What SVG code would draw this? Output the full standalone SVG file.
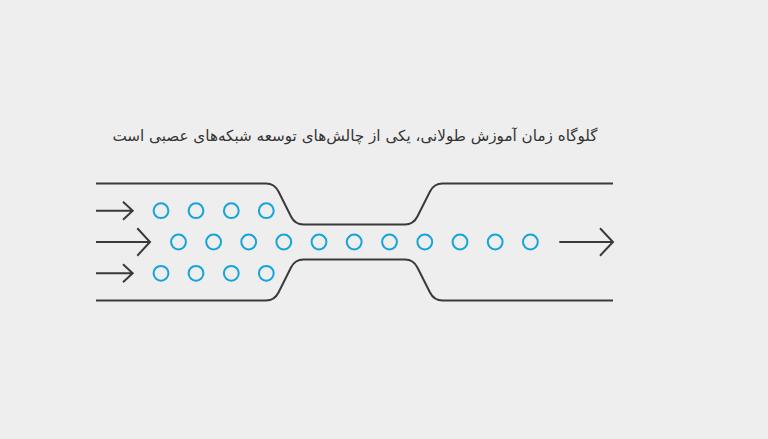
<svg xmlns="http://www.w3.org/2000/svg" width="768" height="439" viewBox="0 0 768 439">
<defs>
<style>
.wall{fill:none;stroke:#3a3a3a;stroke-width:2;stroke-linejoin:round}
.arr{fill:none;stroke:#3a3a3a;stroke-width:2}
.dot{fill:none;stroke:#14a4dc;stroke-width:2}
.title{font-family:"DejaVu Sans","Noto Sans",sans-serif;font-size:15.2px;fill:#333333}
</style>
</defs>
<rect width="768" height="439" fill="#eeeeee"/>
<text class="title" x="355" y="140.5" text-anchor="middle" direction="rtl">گلوگاه زمان آموزش طولانی، یکی از چالش‌های توسعه شبکه‌های عصبی است</text>
<g id="connectors">
<path id="wall-top" class="wall" d="M96,183.5 H266 Q274.5,183.5 278.5,191.5 L291,216.5 Q295,224.5 303.5,224.5 H405 Q413.4,224.5 417.4,216.5 L430,191.5 Q434,183.5 442.5,183.5 H613"/>
<path id="wall-bottom" class="wall" d="M96,300.5 H266 Q274.5,300.5 278.5,292.5 L291,267.5 Q295,259.5 303.5,259.5 H405 Q413.4,259.5 417.4,267.5 L430,292.5 Q434,300.5 442.5,300.5 H613"/>
<path id="arrow-in-top" class="arr" d="M96,210.7 H132.7 M123,201.7 L132.7,210.7 L123,219.7"/>
<path id="arrow-in-mid" class="arr" d="M96,242 H150 M137.3,228.3 L150,242 L137.3,255.7"/>
<path id="arrow-in-bot" class="arr" d="M96,273.3 H132.7 M123,264.3 L132.7,273.3 L123,282.3"/>
<path id="arrow-out" class="arr" d="M559.3,242 H613 M600,228.3 L613,242 L600,255.7"/>
</g>
<g id="row-top">
<circle class="dot" cx="161" cy="210.7" r="7.4"/>
<circle class="dot" cx="196" cy="210.7" r="7.4"/>
<circle class="dot" cx="231.3" cy="210.7" r="7.4"/>
<circle class="dot" cx="266.3" cy="210.7" r="7.4"/>
</g>
<g id="row-mid">
<circle class="dot" cx="178.5" cy="242" r="7.4"/>
<circle class="dot" cx="213.6" cy="242" r="7.4"/>
<circle class="dot" cx="248.7" cy="242" r="7.4"/>
<circle class="dot" cx="283.8" cy="242" r="7.4"/>
<circle class="dot" cx="319" cy="242" r="7.4"/>
<circle class="dot" cx="354.2" cy="242" r="7.4"/>
<circle class="dot" cx="389.5" cy="242" r="7.4"/>
<circle class="dot" cx="424.8" cy="242" r="7.4"/>
<circle class="dot" cx="460" cy="242" r="7.4"/>
<circle class="dot" cx="495.2" cy="242" r="7.4"/>
<circle class="dot" cx="530.4" cy="242" r="7.4"/>
</g>
<g id="row-bot">
<circle class="dot" cx="161" cy="273.3" r="7.4"/>
<circle class="dot" cx="196" cy="273.3" r="7.4"/>
<circle class="dot" cx="231.3" cy="273.3" r="7.4"/>
<circle class="dot" cx="266.3" cy="273.3" r="7.4"/>
</g>
</svg>
